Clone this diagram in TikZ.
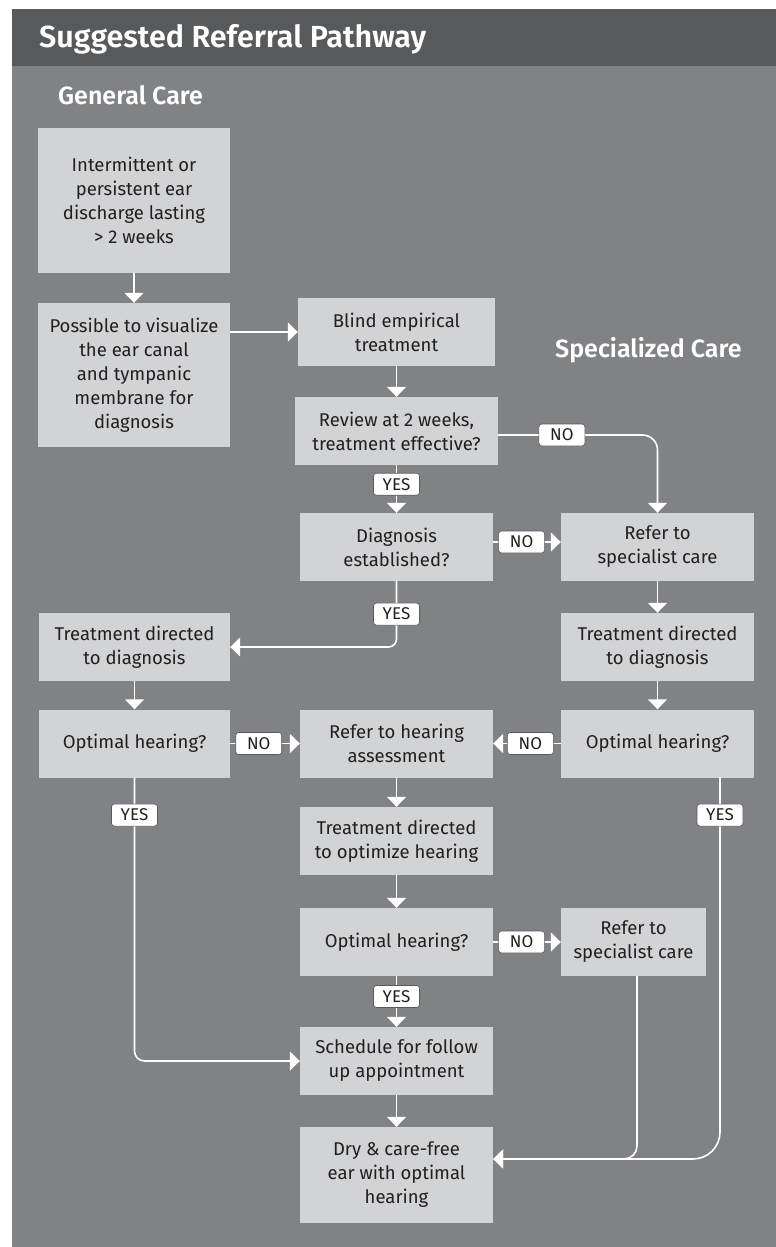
\documentclass[tikz,border=0pt]{standalone}
\usepackage{fontspec}
\setmainfont{Fira Sans}[BoldFont={* SemiBold}]
\usetikzlibrary{arrows.meta}
\definecolor{headgray}{HTML}{58595B}
\definecolor{bodygray}{HTML}{808285}
\definecolor{boxgray}{HTML}{D1D3D4}
\definecolor{ink}{HTML}{231F20}
\tikzset{
  box/.style={fill=boxgray, text=ink, align=center, inner sep=0pt,
    minimum width=193pt, minimum height=68pt, font=\fontsize{18.5}{24}\selectfont},
  yn/.style={fill=white, draw=headgray, line width=0.6pt, rounded corners=3pt, text=ink,
    minimum width=46pt, minimum height=22pt, inner sep=0pt, font=\fontsize{17}{17}\selectfont},
  arr/.style={white, line width=1.6pt, -{Triangle[width=19pt,length=10pt]}},
  caretitle/.style={text=white, anchor=base west, inner sep=0pt, font=\bfseries\fontsize{25}{25}\selectfont}
}
\begin{document}
\begin{tikzpicture}[x=1pt,y=-1pt]
\useasboundingbox (0,0) rectangle (776,1247);
\fill[bodygray] (12,66) rectangle (776,1247);
\fill[headgray] (12,9) rectangle (776,66);
\node[caretitle, font=\bfseries\fontsize{30.5}{30.5}\selectfont] (title) at (39,48) {Suggested Referral Pathway};
\node[caretitle] (general) at (58,104) {General Care};
\node[caretitle] (special) at (555,357) {Specialized Care};
% boxes
\node[box, minimum width=192pt, minimum height=145pt] (disch) at (134,200.5) {Intermittent or\\persistent ear\\discharge lasting\\> 2 weeks};
\node[box, minimum width=192pt, minimum height=144pt] (visual) at (134,375) {Possible to visualize\\the ear canal\\and tympanic\\membrane for\\diagnosis};
\node[box, minimum width=197pt] (blind) at (396.5,332) {Blind empirical\\treatment};
\node[box, minimum width=203pt] (review) at (396.5,431) {Review at 2 weeks,\\treatment effective?};
\node[box] (diag) at (396.5,547) {Diagnosis\\established?};
\node[box] (referA) at (657.5,547) {Refer to\\specialist care};
\node[box, minimum width=191pt] (treatL) at (134.5,647) {Treatment directed\\to diagnosis};
\node[box] (treatR) at (657.5,647) {Treatment directed\\to diagnosis};
\node[box, minimum width=191pt] (optL) at (134.5,743.5) {Optimal hearing?};
\node[box] (hearref) at (396.5,743.5) {Refer to hearing\\assessment};
\node[box] (optR) at (657.5,743.5) {Optimal hearing?};
\node[box] (treatopt) at (396.5,841) {Treatment directed\\to optimize hearing};
\node[box] (optM) at (396.5,942) {Optimal hearing?};
\node[box, minimum width=145pt] (referB) at (633.5,942) {Refer to\\specialist care};
\node[box] (sched) at (396.5,1061) {Schedule for follow\\up appointment};
\node[box, minimum height=96pt] (dry) at (396.5,1175) {Dry \& care-free\\ear with optimal\\hearing};
% connectors
\draw[arr] (disch) -- (visual);
\draw[arr] (visual.east |- blind.west) -- (blind.west);
\draw[arr] (blind) -- (review);
\draw[arr, rounded corners=15pt] ([yshift=-4pt]review.east) -| node[yn, pos=0.2] (noA) {NO} (referA.north);
\draw[arr] (review) -- node[yn, pos=0.4] (yesA) {YES} (diag);
\draw[arr] ([yshift=5pt]diag.east) -- node[yn, pos=0.42] (noB) {NO} ([yshift=5pt]referA.west);
\draw[arr, rounded corners=8pt] (diag.south) |- node[yn, pos=0.25] (yesB) {YES} (treatL.east);
\draw[arr] (referA) -- (treatR);
\draw[arr] (treatL) -- (optL);
\draw[arr] (treatR) -- (optR);
\draw[arr] (optL) -- node[yn, pos=0.41] (noC) {NO} (hearref);
\draw[arr] (optR) -- node[yn, pos=0.45] (noD) {NO} (hearref);
\draw[arr] (hearref) -- (treatopt);
\draw[arr] (treatopt) -- (optM);
\draw[arr] (optM) -- node[yn, pos=0.42] (noE) {NO} (referB);
\draw[arr] (optM) -- node[yn, pos=0.4] (yesC) {YES} (sched);
\draw[arr] (sched) -- (dry);
\draw[arr, rounded corners=10pt] (optL.south) |- node[yn, pos=0.066] (yesD) {YES} (sched.west);
\draw[arr, rounded corners=27pt] ([xshift=62.5pt]optR.south) |- node[yn, pos=0.049] (yesE) {YES} ([yshift=16pt]dry.east);
\draw[arr, rounded corners=13pt] ([xshift=3.5pt]referB.south) |- ([yshift=16pt]dry.east);
\end{tikzpicture}
\end{document}
